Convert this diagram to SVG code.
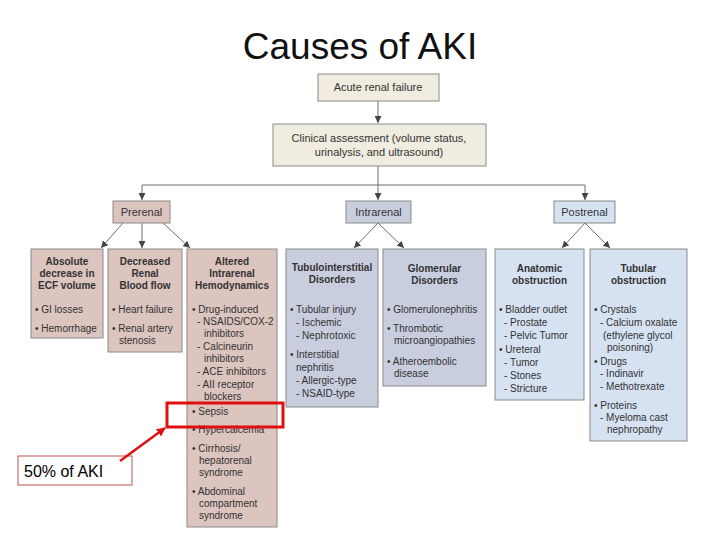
<svg xmlns="http://www.w3.org/2000/svg" width="720" height="540" viewBox="0 0 720 540">
<defs>
<style>
text{font-family:"Liberation Sans",Arial,sans-serif;fill:#333;font-size:10px}
.h{font-weight:bold;text-anchor:middle}
.c{text-anchor:middle}
.top{font-size:11px}
.box{stroke:#8a8a8a;stroke-width:1}
.beige{fill:#f0ece0}
.pre{fill:#dcc4bf}
.intra{fill:#c9cedf}
.post{fill:#d6e2f2}
.conn{stroke:#6e6e6e;stroke-width:1;fill:none}
</style>
<marker id="ah" viewBox="0 0 10 10" refX="10" refY="5" markerWidth="7" markerHeight="7" markerUnits="userSpaceOnUse" orient="auto">
<path d="M0,0 L10,5 L0,10 z" fill="#444"/>
</marker>
<marker id="rah" viewBox="0 0 10 10" refX="9" refY="5" markerWidth="9" markerHeight="9" markerUnits="userSpaceOnUse" orient="auto">
<path d="M0,0 L10,5 L0,10 z" fill="#e01010"/>
</marker>
</defs>
<rect width="720" height="540" fill="#ffffff"/>
<text x="360" y="59" class="c" style="font-size:37px;fill:#111">Causes of AKI</text>

<g id="connectors">
<line class="conn" x1="378" y1="101" x2="378" y2="123" marker-end="url(#ah)"/>
<polyline class="conn" points="378,166 378,185"/>
<line class="conn" x1="142" y1="185" x2="585" y2="185"/>
<line class="conn" x1="142" y1="185" x2="142" y2="200" marker-end="url(#ah)"/>
<line class="conn" x1="378" y1="185" x2="378" y2="200" marker-end="url(#ah)"/>
<line class="conn" x1="585" y1="185" x2="585" y2="200" marker-end="url(#ah)"/>
<line class="conn" x1="123" y1="223" x2="101" y2="248" marker-end="url(#ah)"/>
<line class="conn" x1="142" y1="223" x2="142" y2="248" marker-end="url(#ah)"/>
<line class="conn" x1="163" y1="223" x2="190" y2="248" marker-end="url(#ah)"/>
<line class="conn" x1="378" y1="223" x2="354" y2="248" marker-end="url(#ah)"/>
<line class="conn" x1="378" y1="223" x2="404" y2="248" marker-end="url(#ah)"/>
<line class="conn" x1="585" y1="223" x2="562" y2="248" marker-end="url(#ah)"/>
<line class="conn" x1="585" y1="223" x2="610" y2="248" marker-end="url(#ah)"/>
</g>

<g id="acute">
<rect class="box beige" x="318" y="74" width="121" height="27"/>
<text x="378" y="91" class="c top">Acute renal failure</text>
</g>
<g id="clinical">
<rect class="box beige" x="273" y="124" width="213" height="42"/>
<text x="379" y="142" class="c top">Clinical assessment (volume status,</text>
<text x="379" y="156" class="c top">urinalysis, and ultrasound)</text>
</g>
<g id="prerenal">
<rect class="box pre" x="113" y="201" width="57" height="22"/>
<text x="141.5" y="216" class="c top">Prerenal</text>
</g>
<g id="intrarenal">
<rect class="box intra" x="346" y="201" width="65" height="22"/>
<text x="378.5" y="216" class="c top">Intrarenal</text>
</g>
<g id="postrenal">
<rect class="box post" x="554" y="201" width="61" height="22"/>
<text x="584.5" y="216" class="c top">Postrenal</text>
</g>

<g id="absolute">
<rect class="box pre" x="31" y="249" width="72" height="89"/>
<text x="67" y="265" class="h">Absolute</text>
<text x="67" y="277" class="h">decrease in</text>
<text x="67" y="289" class="h">ECF volume</text>
<text x="35" y="313">• GI losses</text>
<text x="35" y="332">• Hemorrhage</text>
</g>
<g id="decreased">
<rect class="box pre" x="108" y="249" width="74" height="103"/>
<text x="145" y="265" class="h">Decreased</text>
<text x="145" y="277" class="h">Renal</text>
<text x="145" y="289" class="h">Blood flow</text>
<text x="112" y="313">• Heart failure</text>
<text x="112" y="332">• Renal artery</text>
<text x="119" y="344">stenosis</text>
</g>
<g id="altered">
<rect class="box pre" x="187" y="249" width="90" height="278"/>
<text x="232" y="265" class="h">Altered</text>
<text x="232" y="277" class="h">Intrarenal</text>
<text x="232" y="289" class="h">Hemodynamics</text>
<text x="192" y="313">• Drug-induced</text>
<text x="197" y="325">- NSAIDS/COX-2</text>
<text x="204" y="337">inhibitors</text>
<text x="197" y="350">- Calcineurin</text>
<text x="204" y="362">inhibitors</text>
<text x="197" y="375">- ACE inhibitors</text>
<text x="197" y="388">- AII receptor</text>
<text x="204" y="400">blockers</text>
<text x="192" y="415">• Sepsis</text>
<text x="192" y="433">• Hypercalcemia</text>
<text x="192" y="452">• Cirrhosis/</text>
<text x="199" y="464">hepatorenal</text>
<text x="199" y="476">syndrome</text>
<text x="192" y="495">• Abdominal</text>
<text x="199" y="507">compartment</text>
<text x="199" y="519">syndrome</text>
</g>
<g id="tubulointerstitial">
<rect class="box intra" x="286" y="249" width="92" height="158"/>
<text x="332" y="271" class="h">Tubulointerstitial</text>
<text x="332" y="283" class="h">Disorders</text>
<text x="290" y="313">• Tubular injury</text>
<text x="296" y="326">- Ischemic</text>
<text x="296" y="339">- Nephrotoxic</text>
<text x="290" y="358">• Interstitial</text>
<text x="296" y="371">nephritis</text>
<text x="296" y="384">- Allergic-type</text>
<text x="296" y="397">- NSAID-type</text>
</g>
<g id="glomerular">
<rect class="box intra" x="383" y="249" width="103" height="137"/>
<text x="434.5" y="272" class="h">Glomerular</text>
<text x="434.5" y="284" class="h">Disorders</text>
<text x="387" y="313">• Glomerulonephritis</text>
<text x="387" y="332">• Thrombotic</text>
<text x="394" y="344">microangiopathies</text>
<text x="387" y="365">• Atheroembolic</text>
<text x="394" y="377">disease</text>
</g>
<g id="anatomic">
<rect class="box post" x="495" y="249" width="89" height="151"/>
<text x="539.5" y="272" class="h">Anatomic</text>
<text x="539.5" y="284" class="h">obstruction</text>
<text x="499" y="313">• Bladder outlet</text>
<text x="504" y="326">- Prostate</text>
<text x="504" y="339">- Pelvic Tumor</text>
<text x="499" y="353">• Ureteral</text>
<text x="504" y="366">- Tumor</text>
<text x="504" y="379">- Stones</text>
<text x="504" y="392">- Stricture</text>
</g>
<g id="tubular">
<rect class="box post" x="590" y="249" width="97" height="192"/>
<text x="638.5" y="272" class="h">Tubular</text>
<text x="638.5" y="284" class="h">obstruction</text>
<text x="594" y="313">• Crystals</text>
<text x="600" y="326">- Calcium oxalate</text>
<text x="603" y="339">(ethylene glycol</text>
<text x="607" y="351">poisoning)</text>
<text x="594" y="365">• Drugs</text>
<text x="600" y="377">- Indinavir</text>
<text x="600" y="390">- Methotrexate</text>
<text x="594" y="409">• Proteins</text>
<text x="600" y="421">- Myeloma cast</text>
<text x="607" y="433">nephropathy</text>
</g>

<g id="highlight">
<rect x="167" y="403" width="116" height="24" fill="none" stroke="#e01010" stroke-width="3"/>
</g>
<g id="note">
<rect x="18" y="456" width="114" height="29" fill="#ffffff" stroke="#c0504d" stroke-width="1"/>
<text x="24" y="477" style="font-size:16px;fill:#000">50% of AKI</text>
</g>
<g id="note-arrow">
<line x1="120" y1="461" x2="165" y2="428" stroke="#e01010" stroke-width="2.5" marker-end="url(#rah)"/>
</g>
</svg>
